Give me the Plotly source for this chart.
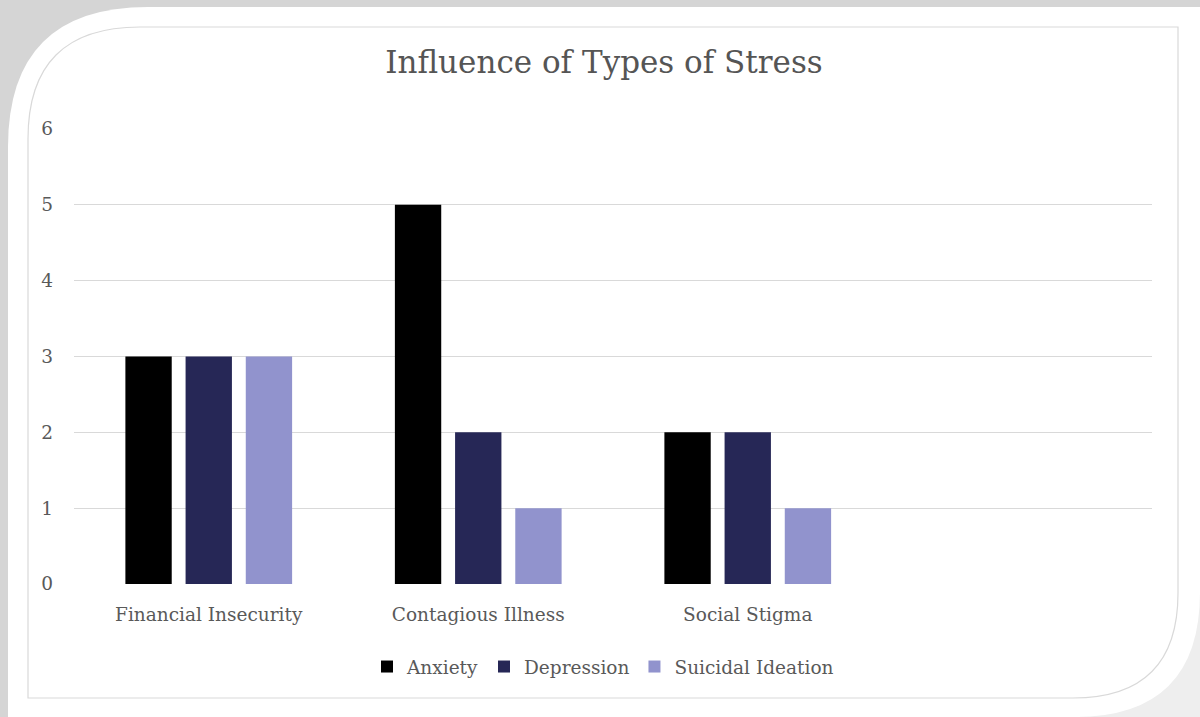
import plotly.graph_objects as go

W, H = 1200, 717

categories = ["Financial Insecurity", "Contagious Illness", "Social Stigma", ""]
series_names = ["Anxiety", "Depression", "Suicidal Ideation"]
anxiety = [3, 5, 2]
depression = [3, 2, 2]
suicidal = [3, 1, 1]
series_values = [anxiety, depression, suicidal]
colors = ["#000000", "#262756", "#9193CD"]
y_ticks = [0, 1, 2, 3, 4, 5, 6]

FONT = "DejaVu Serif"
TXT = "#595959"


def px(x, y):
    return f"{x / W:.5f},{1 - y / H:.5f}"


fig = go.Figure()
x_idx = list(range(len(categories) - 1))
for name, vals, col in zip(series_names, series_values, colors):
    fig.add_trace(go.Bar(
        x=x_idx, y=vals, name=name,
        marker=dict(color=col, line=dict(width=0)),
    ))

shapes = []
GRAY = "#d5d5d5"
# gray background shadow strips (top / left)
shapes.append(dict(type="rect", xref="paper", yref="paper", x0=0, x1=1, y0=1 - 7 / H, y1=1,
                   fillcolor=GRAY, line=dict(width=0), layer="below"))
shapes.append(dict(type="rect", xref="paper", yref="paper", x0=0, x1=8 / W, y0=0, y1=1,
                   fillcolor=GRAY, line=dict(width=0), layer="below"))
shapes.append(dict(type="rect", xref="paper", yref="paper", x0=0, x1=160 / W, y0=1 - 160 / H, y1=1,
                   fillcolor=GRAY, line=dict(width=0), layer="below"))
shapes.append(dict(type="rect", xref="paper", yref="paper", x0=1080 / W, x1=1, y0=0, y1=1 - 595 / H,
                   fillcolor="#eeeeee", line=dict(width=0), layer="below"))
# white rounded card
R1, R2 = 140, 125
card = (f"M {px(8 + R1, 7)} L {px(1200, 7)} L {px(1200, 717 - R2)} "
        f"Q {px(1200, 717)} {px(1200 - R2, 717)} L {px(8, 717)} L {px(8, 7 + R1)} "
        f"Q {px(8, 7)} {px(8 + R1, 7)} Z")
shapes.append(dict(type="path", xref="paper", yref="paper", path=card,
                   fillcolor="#ffffff", line=dict(width=0), layer="below"))
# inner thin border
r1, r2 = 112, 105
inner = (f"M {px(28 + r1, 27)} L {px(1178, 27)} L {px(1178, 698 - r2)} "
         f"Q {px(1178, 698)} {px(1178 - r2, 698)} L {px(28, 698)} L {px(28, 27 + r1)} "
         f"Q {px(28, 27)} {px(28 + r1, 27)} Z")
shapes.append(dict(type="path", xref="paper", yref="paper", path=inner,
                   fillcolor="rgba(0,0,0,0)", line=dict(width=1.2, color="#d9d9d9"), layer="below"))

fig.update_layout(
    template="none",
    width=W, height=H,
    margin=dict(l=0, r=0, t=0, b=0),
    paper_bgcolor="#ffffff",
    plot_bgcolor="rgba(0,0,0,0)",
    font=dict(family=FONT, color=TXT, size=18),
    title=dict(text="Influence of Types of Stress", x=604 / W, y=1 - 62 / H,
               xref="paper", yref="paper", xanchor="center", yanchor="middle",
               font=dict(family=FONT, size=31, color="#555555")),
    barmode="group",
    bargap=0.33,
    bargroupgap=0.23,
    showlegend=True,
    legend=dict(orientation="h", x=603 / W, y=1 - 667 / H, xanchor="center", yanchor="middle",
                font=dict(family=FONT, size=18.5, color=TXT), bgcolor="rgba(0,0,0,0)",
                itemwidth=30, traceorder="normal"),
    shapes=shapes,
    xaxis=dict(
        domain=[74 / W, 1152 / W],
        range=[-0.5, len(categories) - 0.5],
        tickvals=list(range(len(categories))),
        ticktext=categories,
        showgrid=False, zeroline=False, showline=False, ticks="",
        ticklabelstandoff=17, automargin=False,
        tickfont=dict(family=FONT, size=18.5, color=TXT),
        fixedrange=True,
    ),
    yaxis=dict(
        domain=[1 - 584 / H, 1 - 129 / H],
        range=[0, 6],
        tickvals=y_ticks,
        showgrid=True, gridcolor="#d9d9d9", gridwidth=1.3,
        zeroline=False, showline=False, ticks="",
        ticklabelstandoff=20, automargin=False,
        tickfont=dict(family=FONT, size=18.5, color=TXT),
        fixedrange=True,
    ),
)

fig.write_html("out.html")
